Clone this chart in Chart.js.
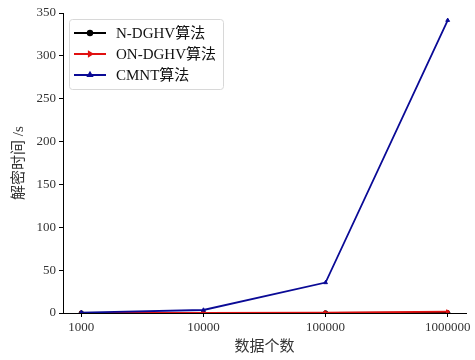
<!DOCTYPE html>
<html>
<head>
<meta charset="utf-8">
<script src="https://cdn.jsdelivr.net/npm/chart.js@4"></script>
<style>
  body { margin: 0; background: #fff; }
  #wrap { width: 475px; height: 360px; }
</style>
</head>
<body>
<div id="wrap"><canvas id="decChart" width="475" height="360"></canvas></div>
<script>
// data
const data_counts = [1000, 10000, 100000, 1000000]
const n_dghv_times = [0.02, 0.05, 0.1, 0.3]
const on_dghv_times = [0.1, 0.2, 0.4, 1.5]
const cmnt_times = [0.5, 3.5, 35.5, 341.5]
const y_ticks = [0, 50, 100, 150, 200, 250, 300, 350]

const series_names = ['N-DGHV算法', 'ON-DGHV算法', 'CMNT算法']
const x_title = '数据个数'
const y_title = '解密时间 /s'

const FONT = '"Liberation Serif", "DejaVu Serif", "Noto Sans CJK SC", serif'

function toPoints(vals){
  return data_counts.map((c, i) => ({x: c, y: vals[i]}))
}

// legend drawn inside the plot, top-left, matplotlib style
const innerLegend = {
  id: 'innerLegend',
  afterDraw(chart){
    const ctx = chart.ctx
    const area = chart.chartArea
    const x0 = area.left + 6, y0 = area.top + 6
    const w = 154, h = 70
    ctx.save()
    ctx.fillStyle = 'rgba(255,255,255,0.8)'
    ctx.strokeStyle = '#d8d8d8'
    ctx.lineWidth = 1
    ctx.beginPath()
    ctx.roundRect(x0 + 0.5, y0 + 0.5, w, h, 3)
    ctx.fill()
    ctx.stroke()
    ctx.font = '15px ' + FONT
    ctx.textBaseline = 'middle'
    chart.data.datasets.forEach((ds, i) => {
      const yy = y0 + 14 + i * 21
      ctx.strokeStyle = ds.borderColor
      ctx.lineWidth = 2
      ctx.beginPath()
      ctx.moveTo(x0 + 5, yy)
      ctx.lineTo(x0 + 37, yy)
      ctx.stroke()
      ctx.fillStyle = ds.borderColor
      Chart.helpers.drawPoint(ctx, {
        pointStyle: ds.pointStyle, radius: 2.2, rotation: ds.pointRotation || 0,
        borderWidth: 1
      }, x0 + 21, yy)
      ctx.fillStyle = '#111'
      ctx.fillText(ds.label, x0 + 47, yy + 1)
    })
    ctx.restore()
  }
}

const ctx = document.getElementById('decChart').getContext('2d')

new Chart(ctx, {
  type: 'line',
  data: {
    datasets: [
      {
        label: series_names[0],
        data: toPoints(n_dghv_times),
        borderColor: '#000000',
        backgroundColor: '#000000',
        pointStyle: 'circle',
        order: 3
      },
      {
        label: series_names[1],
        data: toPoints(on_dghv_times),
        borderColor: '#e01010',
        backgroundColor: '#e01010',
        pointStyle: 'triangle',
        pointRotation: 90,
        order: 2
      },
      {
        label: series_names[2],
        data: toPoints(cmnt_times),
        borderColor: '#0a0a96',
        backgroundColor: '#0a0a96',
        pointStyle: 'triangle',
        order: 1
      }
    ]
  },
  options: {
    responsive: false,
    animation: false,
    elements: {
      line: { borderWidth: 1.8, tension: 0 },
      point: { radius: 2.2, borderWidth: 1 }
    },
    layout: { padding: { top: 13, right: 9, left: 0, bottom: 0 } },
    plugins: {
      legend: { display: false },
      tooltip: { enabled: false }
    },
    scales: {
      x: {
        type: 'logarithmic',
        min: data_counts[0] / Math.pow(10, 0.15),
        max: data_counts[data_counts.length - 1] * Math.pow(10, 0.15),
        afterBuildTicks: axis => { axis.ticks = data_counts.map(v => ({value: v})) },
        afterFit: axis => { axis.height = 47 },
        border: { color: '#000', width: 1 },
        grid: { drawOnChartArea: false, tickLength: 4, color: '#000' },
        ticks: {
          color: '#333',
          font: { family: FONT, size: 13 },
          padding: 3,
          maxRotation: 0,
          callback: v => String(v)
        },
        title: {
          display: true,
          text: x_title,
          color: '#333',
          font: { family: FONT, size: 15 },
          padding: { top: 0 }
        }
      },
      y: {
        min: 0,
        max: 350,
        afterBuildTicks: axis => { axis.ticks = y_ticks.map(v => ({value: v})) },
        afterFit: axis => { axis.width = 63 },
        border: { color: '#000', width: 1 },
        grid: { drawOnChartArea: false, tickLength: 4, color: '#000' },
        ticks: {
          color: '#333',
          font: { family: FONT, size: 13 },
          padding: 3
        },
        title: {
          display: true,
          text: y_title,
          color: '#333',
          font: { family: FONT, size: 15 },
          padding: { top: 10, bottom: 2 }
        }
      }
    }
  },
  plugins: [innerLegend]
})
</script>
</body>
</html>
